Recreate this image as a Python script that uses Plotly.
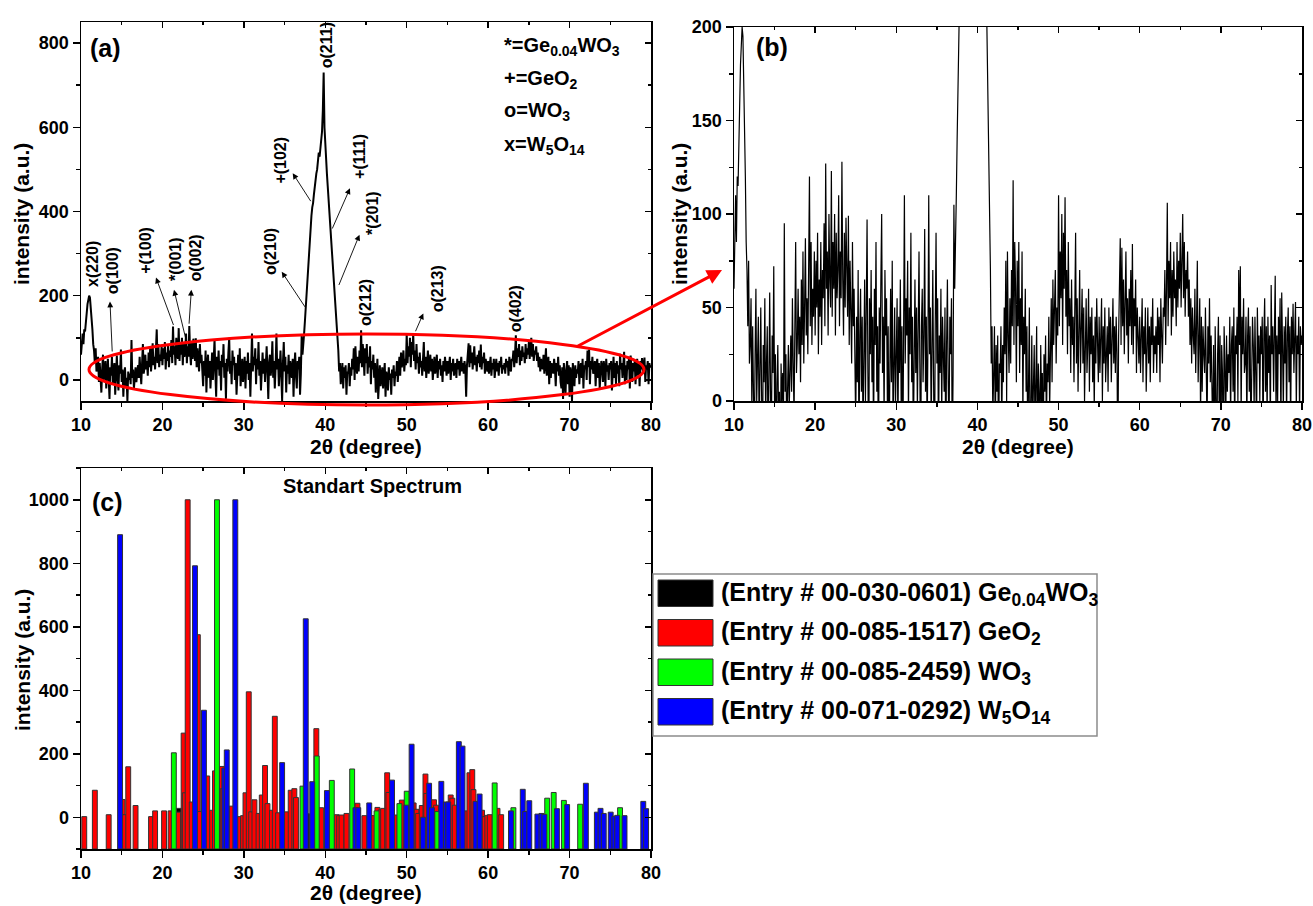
import plotly.graph_objects as go

FONT = "Liberation Sans"
W, H = 1313, 906

# ---------------- data: measured XRD pattern (2theta from 10 to 80, step 0.1) ----------------
two_theta_start = 10.0
two_theta_step = 0.1
intensity_rows = [
    [60, 95, 110, 85, 120, 115, 140, 165, 180, 190],          # 10
    [200, 195, 175, 150, 120, 85, 70, 40, 75, 20],            # 11
    [30, 55, -5, 40, 10, -30, 25, 60, 0, 20],                 # 12
    [45, -20, 15, 50, 5, -45, 30, 10, 55, -10],               # 13
    [20, 40, -35, 10, 58, 5, -25, 35, 15, 72],                # 14
    [-5, 25, -40, 10, 30, -15, 5, -50, 20, 0],                # 15
    [15, -10, 95, 5, 25, -20, 10, 30, -5, 20],                # 16
    [35, 5, 55, 20, -10, 40, 85, 15, 30, 60],                 # 17
    [25, 45, 10, 65, 30, 80, 20, 50, 87, 35],                 # 18
    [55, 25, 70, 120, 40, 85, 30, 60, 45, 80],                # 19
    [35, 75, 50, 90, 25, 65, 45, 85, 30, 70],                 # 20
    [55, 95, 40, 127, 60, 80, 35, 100, 65, 50],               # 21
    [123, 45, 85, 60, 100, 35, 90, 55, 70, 110],              # 22
    [40, 80, 55, 128, 65, 35, 90, 50, 98, 60],                # 23
    [45, 99, 30, 75, 55, 20, 85, 40, 60, 25],                 # 24
    [-15, 45, 10, 70, -30, 35, 60, 5, 45, -20],               # 25
    [30, 65, 0, 40, 97, 15, -40, 55, 25, 70],                 # 26
    [10, 45, -25, 60, 30, 85, 5, 40, -45, 50],                # 27
    [20, 65, 100, 15, 45, -10, 70, 35, 55, 0],                # 28
    [40, -35, 25, 60, 10, 75, -15, 35, 50, -5],               # 29
    [30, 55, -20, 45, 15, 65, 0, 40, -40, 25],                # 30
    [110, 20, 55, 35, 75, -10, 50, 25, 90, 10],               # 31
    [45, -25, 30, 65, 15, 50, -5, 35, 80, 20],                # 32
    [-45, 40, 60, 10, 35, 92, 5, 45, -20, 30],                # 33
    [110, 25, 50, -15, 35, 70, 10, -50, 40, 90],              # 34
    [20, 55, -30, 35, 15, 60, -10, 45, 25, 5],                # 35
    [50, -40, 30, 65, 10, -20, 45, 25, 55, -35],              # 36
    [15, 105, 60, 99, 110, 140, 175, 200, 240, 280],          # 37
    [310, 340, 360, 390, 410, 420, 440, 460, 470, 490],       # 38
    [500, 520, 540, 530, 555, 560, 590, 640, 730, 600],       # 39
    [550, 520, 490, 460, 430, 400, 380, 350, 320, 300],       # 40
    [270, 240, 200, 160, 125, 95, 70, 20, 40, -10],           # 41
    [10, 40, -20, 30, 5, 35, -35, 20, 15, 40],                # 42
    [-15, 30, 10, 50, 25, 75, 0, 80, 35, 15],                 # 43
    [55, 20, 70, 40, 118, 30, 85, 60, 10, 75],                # 44
    [40, 85, 15, 55, 30, 80, -10, 45, 25, 60],                # 45
    [5, 40, -30, 25, 50, -45, 15, 35, -15, 20],               # 46
    [30, -20, 10, 40, -40, 20, 5, -25, 30, 0],                # 47
    [15, -35, 25, 5, 35, -15, 20, 10, 45, -5],                # 48
    [25, 55, 10, 65, 30, 45, 70, 20, 50, 35],                 # 49
    [110, 40, 80, 55, 100, 30, 90, 60, 109, 45],              # 50
    [70, 25, 85, 40, 55, 15, 65, 30, 45, 10],                 # 51
    [40, 90, 20, 55, 5, 45, 70, 15, 35, 60],                  # 52
    [20, 50, 0, 40, 55, 15, 30, 60, 5, 45],                   # 53
    [25, 50, 10, 35, -5, 45, 20, 55, 30, 10],                 # 54
    [45, 15, 35, 55, 0, 40, 20, 50, 10, 30],                  # 55
    [40, 5, 50, 25, 45, 10, 35, 55, 20, 40],                  # 56
    [15, 45, 25, -40, 35, 55, 87, 30, 82, 40],                # 57
    [65, 25, 50, 80, 35, 55, 20, 60, 40, 70],                 # 58
    [30, 84, 25, 55, 40, 65, 15, 50, 35, 20],                 # 59
    [45, 15, 35, 55, 10, 40, 25, 50, 5, 30],                  # 60
    [50, 20, 40, 10, 45, 30, 55, 15, 35, 25],                 # 61
    [40, 15, 50, 30, 45, 10, 55, 35, 20, 50],                 # 62
    [45, 70, 30, 60, 106, 40, 75, 55, 85, 35],                # 63
    [70, 45, 80, 55, 65, 40, 85, 50, 75, 60],                 # 64
    [90, 50, 75, 100, 55, 85, 45, 70, 60, 80],                # 65
    [45, 65, 30, 55, 20, 50, 35, 25, 60, 15],                 # 66
    [40, 75, 10, 35, 55, -10, 45, 5, 40, 25],                 # 67
    [15, 50, 30, -15, 40, 20, 55, 10, 35, -5],                # 68
    [-20, 30, -45, 40, 10, -35, 25, 45, -10, 35],             # 69
    [-40, 30, 15, -50, 40, 20, -15, 35, 5, 25],               # 70
    [15, 45, -10, 30, 40, 5, 50, -20, 35, 25],                # 71
    [45, 0, 70, 30, 72, -10, 45, 25, 55, 15],                 # 72
    [20, 45, -15, 35, 50, 5, 40, -20, 30, 45],                # 73
    [30, -5, 45, 25, -15, 50, 20, 35, 0, 40],                 # 74
    [25, 45, -25, 35, 55, 5, 40, -10, 45, 15],                # 75
    [35, -15, 62, 25, 40, 5, 50, 67, -10, 35],                # 76
    [0, 45, 25, 55, -20, 58, 30, -5, 40, 20],                 # 77
    [45, -10, 35, 50, 10, 40, -15, 45, 25, 52],               # 78
    [15, 40, 53, -5, 35, 25, 45, -10, 40, 30],                # 79
    [35],                                                     # 80
]
intensity = [v for row in intensity_rows for v in row]
two_theta = [round(two_theta_start + i * two_theta_step, 2) for i in range(len(intensity))]

# ---------------- data: standard reference line positions ----------------
ge004wo3_name = "(Entry # 00-030-0601) Ge<sub>0.04</sub>WO<sub>3</sub>"
ge004wo3_pos = [22.0, 37.75, 45.6]
ge004wo3_int = [28, 11, 5]

geo2_name = "(Entry # 00-085-1517) GeO<sub>2</sub>"
geo2_pos = [10.4, 11.7, 13.4, 15.1, 15.4, 15.8, 16.7, 18.6, 19.1, 20.2, 21.0, 21.95, 22.6,
            22.75, 23.1, 23.6, 24.35, 24.6, 25.5, 26.1, 26.45, 27.3, 27.4, 28.5, 29.5, 29.9,
            30.2, 30.6, 30.9, 31.3, 31.8, 32.2, 32.6, 32.9, 33.45, 33.8, 34.2, 35.25, 35.75,
            36.2, 36.4, 38.9, 39.5, 41.4, 41.7, 42.0, 42.6, 43.95, 44.8, 45.9, 46.4, 46.8,
            47.1, 47.6, 47.75, 48.7, 49.4, 50.85, 51.2, 51.4, 51.85, 52.3, 52.4, 53.35, 53.6,
            55.4, 55.6, 55.9, 57.3, 57.7, 58.05, 58.2, 59.25, 59.55, 59.9, 60.2, 61.15, 61.6]
geo2_int = [2, 85, 8, 56, 8, 159, 37, 2, 20, 20, 20, 16, 265,
            77, 1000, 48, 575, 18, 130, 22, 146, 160, 90, 35, 2, 5,
            77, 395, 17, 55, 12, 70, 163, 43, 22, 318, 14, 17, 85,
            90, 62, 279, 30, 8, 5, 7, 12, 44, 5, 5, 31, 23,
            28, 140, 78, 7, 54, 45, 25, 12, 37, 136, 75, 55, 38,
            70, 60, 38, 20, 140, 150, 87, 22, 2, 6, 8, 28, 8]

wo3_name = "(Entry # 00-085-2459) WO<sub>3</sub>"
wo3_pos = [21.4, 26.7, 37.2, 38.95, 40.8, 43.3, 46.3, 49.1, 50.0, 53.75, 60.8, 63.1,
           67.25, 68.05, 69.3, 71.3, 76.2]
wo3_int = [203, 1000, 98, 193, 116, 152, 20, 43, 82, 18, 108, 30, 60, 78, 53, 41, 30]

w5o14_name = "(Entry # 00-071-0292) W<sub>5</sub>O<sub>14</sub>"
w5o14_pos = [14.8, 24.0, 25.1, 27.6, 27.9, 28.95, 34.7, 37.6, 38.4, 40.2, 43.7, 44.05,
             45.4, 48.2, 49.95, 50.6, 52.0, 52.75, 53.1, 54.25, 54.8, 55.1, 56.4, 56.85,
             58.45, 58.95, 62.8, 64.25, 64.55, 65.05, 66.05, 66.55, 66.9, 68.45, 69.7, 72.0,
             73.35, 73.8, 74.2, 75.05, 75.5, 75.85, 76.75, 79.05, 79.4]
w5o14_int = [890, 792, 337, 155, 212, 1000, 172, 625, 112, 84, 30, 30,
             45, 117, 38, 230, 0, 107, 30, 113, 48, 48, 238, 224,
             50, 73, 20, 88, 18, 52, 10, 12, 9, 27, 40, 107,
             16, 28, 12, 16, 3, 6, 5, 50, 27]

# peak labels of panel (a): text, label x, label y
peak_labels = [
    ("x(220)", 11.5, 276), ("o(100)", 13.97, 259), ("+(100)", 17.98, 309),
    ("*(001)", 21.54, 287), ("o(002)", 24.08, 290), ("o(210)", 33.2, 306),
    ("+(102)", 34.5, 522), ("o(211)", 40.1, 795), ("+(111)", 44.26, 532),
    ("*(201)", 45.7, 396), ("o(212)", 44.87, 185), ("o(213)", 53.88, 216),
    ("o(402)", 63.4, 170),
]
# pointer arrows: head x, head y, tail x, tail y
peak_arrows = [
    (13.56, 186, 13.84, 64), (19.21, 243, 21.42, 127), (21.42, 214, 22.9, 95),
    (23.55, 214, 23.26, 130), (34.65, 257, 37.63, 170), (36.0, 491, 38.33, 421),
    (43.03, 455, 40.78, 356), (44.2, 345, 41.6, 222), (52.04, 158, 51.0, 112),
]
phase_key = ["*=Ge<sub>0.04</sub>WO<sub>3</sub>", "+=GeO<sub>2</sub>",
             "o=WO<sub>3</sub>", "x=W<sub>5</sub>O<sub>14</sub>"]

x_ticks = [10, 20, 30, 40, 50, 60, 70, 80]
a_yticks = [0, 200, 400, 600, 800]
b_yticks = [0, 50, 100, 150, 200]
c_yticks = [0, 200, 400, 600, 800, 1000]
A_YR, B_YR, C_YR = [-50, 850], [0, 200], [-100, 1100]

# ---------------- layout helpers ----------------
def px(x):
    return x / W

def py(y):
    return 1 - y / H

A_X, A_Y = [px(81), px(651)], [py(401), py(22)]
B_X, B_Y = [px(734), px(1302)], [py(401), py(27)]
C_X, C_Y = [px(81), px(651)], [py(849), py(468)]

tickfont = dict(family=FONT, size=18, color="black", weight="bold")


def main_axis(domain, anchor, rng, tickvals, minor_dtick):
    return dict(domain=domain, anchor=anchor, range=rng, tickmode="array", tickvals=tickvals,
                showline=True, linecolor="black", linewidth=1.5, mirror=True,
                ticks="outside", ticklen=7, tickwidth=1.5, tickcolor="black",
                minor=dict(ticks="outside", ticklen=4, tickwidth=1.5, tickcolor="black",
                           dtick=minor_dtick, tick0=tickvals[0]),
                tickfont=tickfont, showgrid=False, zeroline=False, fixedrange=True,
                automargin=False)


def mirror_axis(overlay, anchor, side, rng, tickvals, minor_dtick):
    return dict(overlaying=overlay, anchor=anchor, side=side, range=rng, tickmode="array",
                tickvals=tickvals, showline=False, showticklabels=False,
                ticks="inside", ticklen=6, tickwidth=1.5, tickcolor="black",
                minor=dict(ticks="inside", ticklen=3, tickwidth=1.5, tickcolor="black",
                           dtick=minor_dtick, tick0=tickvals[0]),
                showgrid=False, zeroline=False, fixedrange=True, automargin=False)


fig = go.Figure()

# panel (a) and (b): same measured pattern
fig.add_trace(go.Scatter(x=two_theta, y=intensity, mode="lines",
                         line=dict(color="black", width=2), xaxis="x", yaxis="y",
                         showlegend=False, hoverinfo="skip"))
fig.add_trace(go.Scatter(x=two_theta, y=intensity, mode="lines",
                         line=dict(color="black", width=1.2), xaxis="x2", yaxis="y2",
                         showlegend=False, hoverinfo="skip"))

# panel (c): standard line positions drawn as bars from the bottom of the axis
series = [
    (ge004wo3_name, ge004wo3_pos, ge004wo3_int, "#000000"),
    (geo2_name, geo2_pos, geo2_int, "#FF0000"),
    (wo3_name, wo3_pos, wo3_int, "#00FF00"),
    (w5o14_name, w5o14_pos, w5o14_int, "#0000FF"),
]
for name, pos, vals, color in series:
    fig.add_trace(go.Bar(x=pos, y=[v - C_YR[0] for v in vals], base=C_YR[0], width=0.6,
                         marker=dict(color=color, line=dict(color="#333333", width=1)),
                         name=name, xaxis="x3", yaxis="y3", showlegend=False,
                         hoverinfo="skip"))

# empty traces so that the inward mirror-tick axes are drawn
for xa, ya in [("x4", "y"), ("x", "y4"), ("x5", "y2"), ("x2", "y5"), ("x6", "y3"), ("x3", "y6")]:
    fig.add_trace(go.Scatter(x=[None], y=[None], xaxis=xa, yaxis=ya, showlegend=False,
                             hoverinfo="skip"))

annotations = []
shapes = []

def label(text, x, y, size, xanchor="center", yanchor="middle", angle=0, xref="paper", yref="paper"):
    annotations.append(dict(text=text, x=x, y=y, xref=xref, yref=yref, showarrow=False,
                            xanchor=xanchor, yanchor=yanchor, textangle=angle,
                            font=dict(family=FONT, size=size, color="black", weight="bold")))

# axis titles
label("intensity (a.u.)", px(21), py(214), 21, angle=-90)
label("intensity (a.u.)", px(679), py(214), 21, angle=-90)
label("intensity (a.u.)", px(22), py(660), 21, angle=-90)
label("2θ (degree)", px(366), py(446), 21)
label("2θ (degree)", px(1018), py(447), 21)
label("2θ (degree)", px(366), py(892), 21)

# panel letters and title
label("(a)", px(105), py(48), 25)
label("(b)", px(772), py(47), 25)
label("(c)", px(107), py(502), 25)
label("Standart Spectrum", px(372), py(486), 20)

# phase key of panel (a)
for i, t in enumerate(phase_key):
    label(t, px(502), py(46 + i * 33), 20, xanchor="left")

# peak labels and pointer arrows of panel (a)
for t, x, y in peak_labels:
    label(t, x, y, 16, angle=-90, xref="x", yref="y")
for hx, hy, tx, ty in peak_arrows:
    annotations.append(dict(text="", x=hx, y=hy, ax=tx, ay=ty, xref="x", yref="y",
                            axref="x", ayref="y", showarrow=True, arrowhead=2,
                            arrowsize=1.3, arrowwidth=0.9, arrowcolor="black", standoff=0))

# red zoom arrow
annotations.append(dict(text="", x=px(722), y=py(270), xref="paper", yref="paper",
                        ax=-146, ay=77, showarrow=True, arrowhead=2, arrowsize=1,
                        arrowwidth=3, arrowcolor="#FF0000", standoff=0))

# red ellipse around the noise band
shapes.append(dict(type="circle", xref="paper", yref="paper", x0=px(89), x1=px(644),
                   y0=py(405), y1=py(334), line=dict(color="#FF0000", width=3)))

# custom legend for panel (c)
shapes.append(dict(type="rect", xref="paper", yref="paper", x0=px(653), x1=px(1097),
                   y0=py(736), y1=py(574), line=dict(color="#8c8c8c", width=1.5),
                   fillcolor="white"))
for i, (name, pos, vals, color) in enumerate(series):
    top = 580 + i * 39.5
    shapes.append(dict(type="rect", xref="paper", yref="paper", x0=px(658), x1=px(713),
                       y0=py(top + 26.5), y1=py(top), fillcolor=color,
                       line=dict(color="#333333", width=1)))
    label(name, px(719), py(top + 13.5), 25, xanchor="left")

fig.update_layout(
    width=W, height=H, margin=dict(l=0, r=0, t=0, b=0, pad=0),
    paper_bgcolor="white", plot_bgcolor="white", barmode="overlay",
    hovermode=False, showlegend=False,
    font=dict(family=FONT, color="black"),
    xaxis=main_axis(A_X, "y", [10, 80], x_ticks, 5),
    yaxis=main_axis(A_Y, "x", A_YR, a_yticks, 100),
    xaxis2=main_axis(B_X, "y2", [10, 80], x_ticks, 5),
    yaxis2=main_axis(B_Y, "x2", B_YR, b_yticks, 25),
    xaxis3=main_axis(C_X, "y3", [10, 80], x_ticks, 5),
    yaxis3=main_axis(C_Y, "x3", C_YR, c_yticks, 100),
    xaxis4=mirror_axis("x", "y", "top", [10, 80], x_ticks, 5),
    yaxis4=mirror_axis("y", "x", "right", A_YR, a_yticks, 100),
    xaxis5=mirror_axis("x2", "y2", "top", [10, 80], x_ticks, 5),
    yaxis5=mirror_axis("y2", "x2", "right", B_YR, b_yticks, 25),
    xaxis6=mirror_axis("x3", "y3", "top", [10, 80], x_ticks, 5),
    yaxis6=mirror_axis("y3", "x3", "right", C_YR, c_yticks, 100),
    annotations=annotations, shapes=shapes,
)

fig.write_html(
    "out.html",
    config={"displayModeBar": False, "staticPlot": True},
    post_script="document.body.style.margin='0px';document.body.style.overflow='hidden';",
)
